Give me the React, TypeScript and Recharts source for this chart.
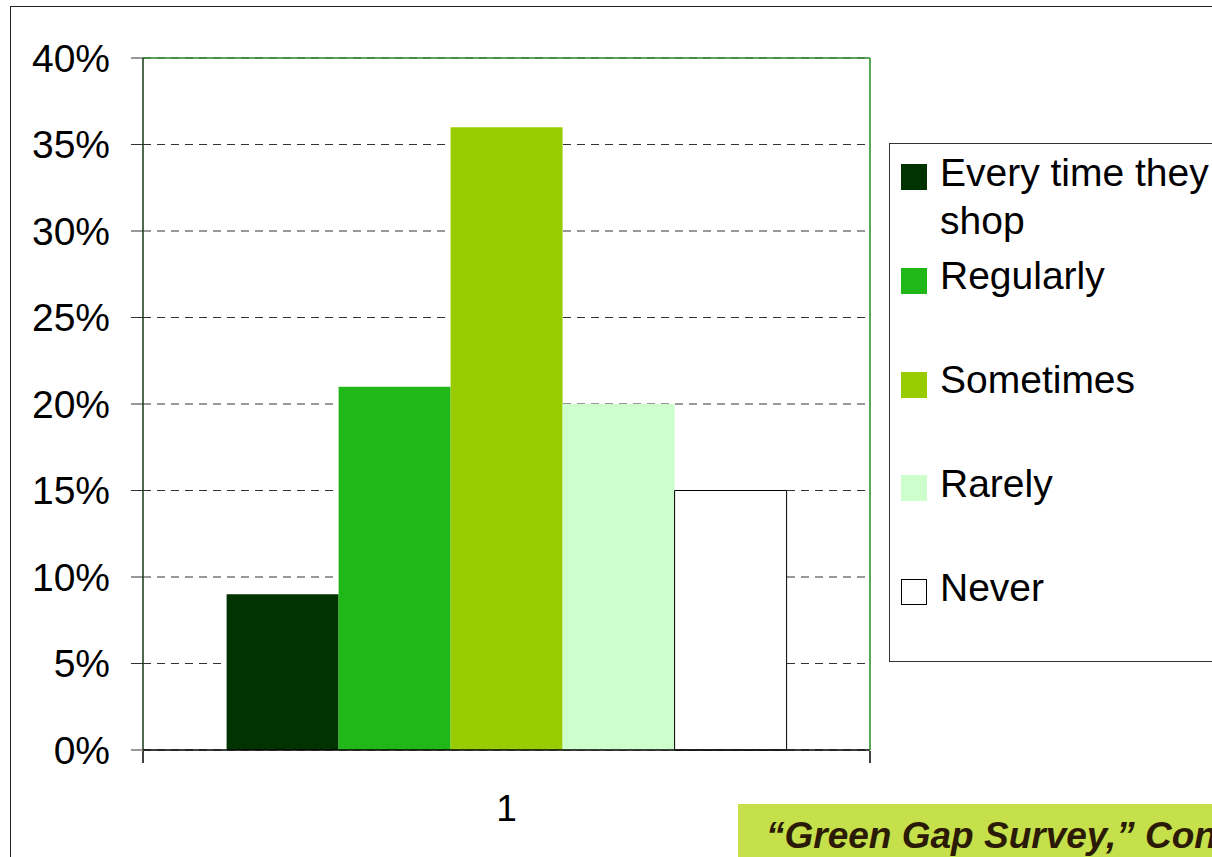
import React from 'react';
import { BarChart, Bar, XAxis, YAxis, CartesianGrid, ReferenceLine } from 'recharts';

const categories = ['1'];
const seriesNames = ['Every time they shop', 'Regularly', 'Sometimes', 'Rarely', 'Never'];
const seriesValues = [0.09, 0.21, 0.36, 0.2, 0.15];
const seriesColors = ['#003300', '#20b818', '#99cc00', '#ccffcc', '#ffffff'];
const seriesStrokes = ['none', 'none', 'none', 'none', '#000000'];
const yTicks = [0, 0.05, 0.1, 0.15, 0.2, 0.25, 0.3, 0.35, 0.4];
const edgeTicks = [0, 1];
const footnote = '\u201cGreen Gap Survey,\u201d Cone';

const data = categories.map((c, ci) => {
  const row: Record<string, any> = { name: c, edge: ci };
  seriesNames.forEach((_, i) => {
    row['s' + i] = seriesValues[i];
  });
  return row;
});

const FONT = '"Liberation Sans", Arial, sans-serif';
const pct = (v: number) => Math.round(v * 100) + '%';
const EmptyTick = () => <g />;

export default function App() {
  return (
    <div
      style={{
        position: 'absolute',
        left: 0,
        top: 0,
        width: 1212,
        height: 857,
        overflow: 'hidden',
        background: '#fff',
        fontFamily: FONT,
      }}
    >
      <div
        style={{
          position: 'absolute',
          left: 10,
          top: 6,
          width: 1300,
          height: 900,
          borderLeft: '1px solid #222',
          borderTop: '1px solid #222',
        }}
      />
      <div style={{ position: 'absolute', left: 0, top: 0 }}>
        <BarChart
          width={1212}
          height={857}
          data={data}
          margin={{ top: 58, right: 341, bottom: 0, left: 0 }}
          barCategoryGap="11.5%"
          barGap={0}
        >
          <CartesianGrid horizontal vertical={false} strokeDasharray="8 6" stroke="#333" />
          <XAxis
            dataKey="name"
            height={1}
            tickSize={0}
            tickMargin={45}
            tickLine={false}
            axisLine={{ stroke: '#000', strokeWidth: 1.5 }}
            tick={{ fontSize: 37, fill: '#000', fontFamily: FONT }}
          />
          <XAxis
            xAxisId="e"
            dataKey="edge"
            type="number"
            domain={[0, 1]}
            ticks={edgeTicks}
            interval={0}
            allowDataOverflow
            tick={EmptyTick}
            tickSize={12}
            height={106}
            axisLine={false}
            tickLine={{ stroke: '#000', strokeWidth: 1.5 }}
          />
          <YAxis
            domain={[0, 0.4]}
            ticks={yTicks}
            interval={0}
            width={143}
            tickSize={12}
            tickMargin={21}
            tickFormatter={pct}
            axisLine={{ stroke: '#143814', strokeWidth: 1.5 }}
            tickLine={{ stroke: '#333' }}
            tick={{ fontSize: 39, fill: '#000', fontFamily: FONT }}
          />
          <YAxis
            yAxisId="r"
            orientation="right"
            width={1}
            domain={[0, 1]}
            tick={false}
            tickLine={false}
            axisLine={{ stroke: '#228b22', strokeWidth: 1.5 }}
          />
          <ReferenceLine y={0.4} stroke="#2a8a2a" strokeWidth={1.5} />
          {seriesNames.map((n, i) => (
            <Bar
              key={n}
              dataKey={'s' + i}
              name={n}
              fill={seriesColors[i]}
              stroke={seriesStrokes[i]}
              strokeWidth={1}
              isAnimationActive={false}
            />
          ))}
        </BarChart>
      </div>
      <div
        style={{
          position: 'absolute',
          left: 889,
          top: 143,
          width: 400,
          height: 519,
          border: '1px solid #333',
          boxSizing: 'border-box',
        }}
      />
      {seriesNames.map((n, i) => (
        <React.Fragment key={n}>
          <div
            style={{
              position: 'absolute',
              left: 901,
              top: 164 + i * 103.8,
              width: 26,
              height: 26,
              boxSizing: 'border-box',
              background: seriesColors[i],
              border: seriesStrokes[i] === 'none' ? 'none' : '1.5px solid ' + seriesStrokes[i],
            }}
          />
          <div
            style={{
              position: 'absolute',
              left: 940,
              top: 148.5 + i * 103.8,
              width: 285,
              fontSize: 39,
              lineHeight: '48px',
              color: '#000',
              fontFamily: FONT,
            }}
          >
            {n}
          </div>
        </React.Fragment>
      ))}
      <div
        style={{
          position: 'absolute',
          left: 738,
          top: 804,
          width: 600,
          height: 80,
          background: '#c5e04a',
        }}
      />
      <div
        style={{
          position: 'absolute',
          left: 766,
          top: 817,
          whiteSpace: 'nowrap',
          fontSize: 37,
          lineHeight: '37px',
          fontWeight: 'bold',
          fontStyle: 'italic',
          color: '#2b1a05',
          fontFamily: FONT,
        }}
      >
        {footnote}
      </div>
    </div>
  );
}
